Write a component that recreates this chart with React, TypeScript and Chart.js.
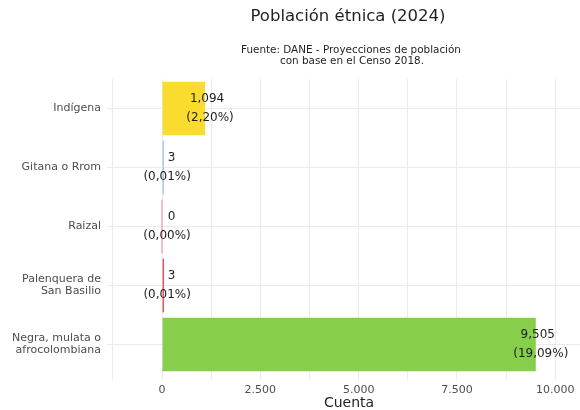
import React, { useEffect, useRef } from "react";
import { Chart, registerables } from "chart.js";

Chart.register(...registerables);

const categories: (string | string[])[] = [
  "Indígena",
  "Gitana o Rrom",
  "Raizal",
  ["Palenquera de", "San Basilio"],
  ["Negra, mulata o", "afrocolombiana"],
];
const counts = [1094, 3, 0, 3, 9505];
const countLabels = ["1,094", "3", "0", "3", "9,505"];
const percentLabels = ["(2,20%)", "(0,01%)", "(0,00%)", "(0,01%)", "(19,09%)"];
const barColors = ["#F9DC2E", "#A6CEE3", "#F4BBD1", "#E1575A", "#87CE4A"];
const xGridValues = [-1250, 0, 1250, 2500, 3750, 5000, 6250, 7500, 8750, 10000];
const xLabeledValues = [0, 2500, 5000, 7500, 10000];
const titleText = "Población étnica (2024)";
const subtitleLines = ["Fuente: DANE - Proyecciones de población", "con base en el Censo 2018."];
const xTitle = "Cuenta";

const FONT = "'DejaVu Sans', Verdana, sans-serif";

export default function App() {
  const ref = useRef<HTMLCanvasElement>(null);
  useEffect(() => {
    document.body.style.margin = "0";
    const labelPlugin = {
      id: "labels",
      afterDatasetsDraw(chart: any) {
        const ctx = chart.ctx;
        const meta = chart.getDatasetMeta(0);
        ctx.save();
        ctx.fillStyle = "#1f1f1f";
        ctx.font = `12px ${FONT}`;
        ctx.textAlign = "center";
        ctx.textBaseline = "middle";
        meta.data.forEach((el: any, i: number) => {
          const end = chart.scales.x.getPixelForValue(counts[i]);
          const w1 = ctx.measureText(countLabels[i]).width;
          ctx.fillText(countLabels[i], end + Math.max(2, 12 - w1 / 3), el.y - 9.5);
          ctx.fillText(percentLabels[i], end + 5, el.y + 9.5);
        });
        ctx.restore();
      },
    };
    const titlePlugin = {
      id: "titles",
      afterDraw(chart: any) {
        const ctx = chart.ctx;
        ctx.save();
        ctx.fillStyle = "#1f1f1f";
        ctx.textAlign = "center";
        ctx.textBaseline = "middle";
        ctx.font = `16.5px ${FONT}`;
        ctx.fillText(titleText, 348, 17);
        ctx.font = `10.4px ${FONT}`;
        ctx.fillText(subtitleLines[0], 351, 50);
        ctx.fillText(subtitleLines[1], 352, 61);
        ctx.font = `14px ${FONT}`;
        ctx.fillText(xTitle, 349, 403);
        ctx.restore();
      },
    };
    const chart = new Chart(ref.current!, {
      type: "bar",
      data: {
        labels: categories,
        datasets: [
          {
            data: counts,
            backgroundColor: barColors,
            barPercentage: 0.91,
            categoryPercentage: 1,
            minBarLength: 2,
          },
        ],
      },
      options: {
        indexAxis: "y",
        animation: false,
        responsive: false,
        layout: { padding: { top: 79, right: 0, left: 0, bottom: 0 } },
        plugins: {
          legend: { display: false },
          tooltip: { enabled: false },
        },
        scales: {
          x: {
            type: "linear",
            min: -1400,
            max: 10630,
            bounds: "data",
            border: { display: false },
            grid: { color: "#EBEBEB", lineWidth: 1, tickLength: 6, drawTicks: true },
            ticks: {
              color: "#4D4D4D",
              font: { family: FONT, size: 11 },
              padding: 4,
              maxRotation: 0,
              autoSkip: false,
              callback: (v: any) => {
                const n = Number(v);
                if (!xLabeledValues.includes(n)) return "";
                return n.toLocaleString("de-DE");
              },
            },
            afterBuildTicks: (scale: any) => {
              scale.ticks = xGridValues.map((v) => ({ value: v }));
            },
            afterFit: (scale: any) => {
              scale.height = 36;
            },
          },
          y: {
            type: "category",
            border: { display: false },
            grid: { color: "#EBEBEB", offset: false, drawTicks: false },
            ticks: {
              color: "#4D4D4D",
              font: { family: FONT, size: 11, lineHeight: 1.1 },
              padding: 6,
            },
            afterFit: (scale: any) => {
              scale.width = 107;
            },
          },
        },
      },
      plugins: [labelPlugin, titlePlugin],
    });
    return () => chart.destroy();
  }, []);
  return (
    <div style={{ width: 580, height: 410 }}>
      <canvas ref={ref} width={580} height={410} style={{ display: "block" }} />
    </div>
  );
}
